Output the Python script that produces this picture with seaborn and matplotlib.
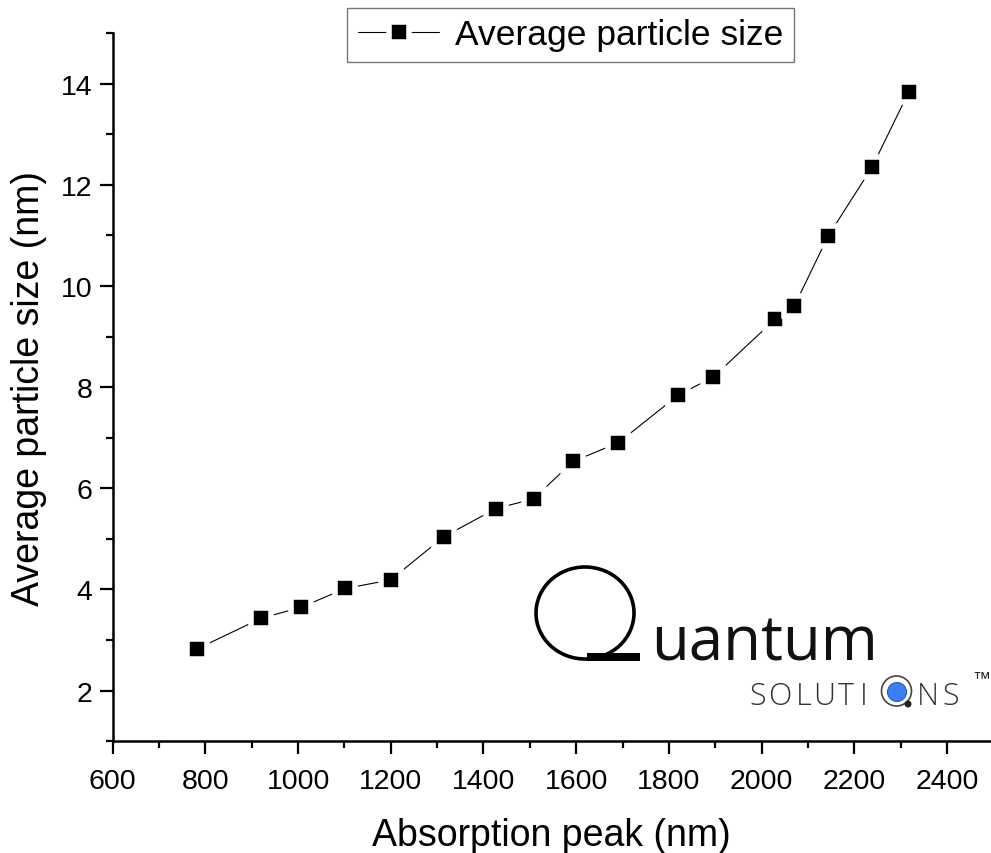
import matplotlib
matplotlib.use("Agg")
import matplotlib.pyplot as plt
from matplotlib.patches import Ellipse, Rectangle
from matplotlib.ticker import MultipleLocator
import numpy as np
import pandas as pd
import seaborn as sns

# data
absorption_peak = [781, 920, 1007, 1102, 1200, 1314, 1427, 1508, 1593, 1691,
                   1820, 1896, 2030, 2071, 2144, 2238, 2318]
particle_size = [2.82, 3.43, 3.65, 4.02, 4.19, 5.04, 5.60, 5.79, 6.53, 6.90,
                 7.84, 8.20, 9.35, 9.61, 10.99, 12.34, 13.84]
series_label = "Average particle size"
x_ticks = [600, 800, 1000, 1200, 1400, 1600, 1800, 2000, 2200, 2400]
y_ticks = [2, 4, 6, 8, 10, 12, 14]

W, H = 991, 854

sns.set_theme(style="ticks")
plt.rcParams["font.family"] = ["Liberation Sans", "DejaVu Sans"]
plt.rcParams["text.color"] = "black"
plt.rcParams["axes.labelcolor"] = "black"

df = pd.DataFrame({"peak": absorption_peak, "size": particle_size})

fig = plt.figure(figsize=(W / 100, H / 100), dpi=100)
ax = fig.add_axes([0.1137, 0.1308, 0.8863, 0.8295])

# white marker edge gives the small gaps between line and squares
sns.lineplot(data=df, x="peak", y="size", ax=ax, color="black", linewidth=0.8,
             marker="s", markersize=14.5, markeredgecolor="white",
             markeredgewidth=4, markerfacecolor="black", label=series_label,
             legend=False)

ax.set_xlim(600, 2495)
ax.set_ylim(1, 15)
ax.set_xticks(x_ticks)
ax.set_yticks(y_ticks)
ax.xaxis.set_minor_locator(MultipleLocator(100))
ax.yaxis.set_minor_locator(MultipleLocator(1))
ax.tick_params(which="major", direction="out", length=9.5, width=1.6,
               labelsize=20.5, colors="black", pad=5)
ax.tick_params(axis="x", which="major", pad=10)
ax.tick_params(which="minor", direction="out", length=5, width=1.6, colors="black")
for side in ["top", "right"]:
    ax.spines[side].set_visible(False)
for side in ["left", "bottom"]:
    ax.spines[side].set_linewidth(1.8)
    ax.spines[side].set_color("black")

ax.set_xlabel("Absorption peak (nm)", fontsize=27, labelpad=16)
ax.set_ylabel("Average particle size (nm)", fontsize=27, labelpad=10)

handles, labels = ax.get_legend_handles_labels()
leg = ax.legend(handles, labels, loc="upper center", bbox_to_anchor=(0.576, 0.990),
                bbox_transform=fig.transFigure, fontsize=25.5, frameon=True,
                fancybox=False, handlelength=2.3, handletextpad=0.45,
                borderpad=0.3, borderaxespad=0)
leg.get_frame().set_edgecolor("#555555")
leg.get_frame().set_linewidth(1.0)


def fx(px):
    return px / W


def fy(py):
    return 1 - py / H


# company logo
fig.patches.append(Ellipse((fx(585), fy(614)), 98 / W, 92 / H, transform=fig.transFigure,
                           facecolor="none", edgecolor="black", linewidth=2.6))
fig.patches.append(Rectangle((fx(587), fy(662)), 53 / W, 8 / H, transform=fig.transFigure,
                             facecolor="black", edgecolor="none"))
fig.text(fx(651), fy(661), "uantum", fontsize=44.5, family="Open Sans",
         color="#111111", va="baseline", ha="left")
for letter, cx in [("S", 757.5), ("O", 780), ("L", 804), ("U", 824), ("T", 846),
                   ("I", 863.5), ("N", 927.5), ("S", 950.5)]:
    fig.text(fx(cx), fy(705), letter, fontsize=22, family="Open Sans",
             fontweight="light", color="#333333", va="baseline", ha="center")
fig.patches.append(Ellipse((fx(896.5), fy(692)), 30 / W, 30 / H, transform=fig.transFigure,
                           facecolor="none", edgecolor="#444444", linewidth=1.2))
fig.patches.append(Ellipse((fx(897), fy(693)), 19 / W, 19 / H, transform=fig.transFigure,
                           facecolor="#3d7ff2", edgecolor="#2a5cc8", linewidth=0.8))
fig.patches.append(Ellipse((fx(908), fy(705)), 7 / W, 7 / H, transform=fig.transFigure,
                           facecolor="#222222", edgecolor="none"))
fig.text(fx(972), fy(683), "™", fontsize=13, family="Liberation Sans",
         color="#222222", va="baseline", ha="left")

fig.savefig("out.png", dpi=100, facecolor="white")
